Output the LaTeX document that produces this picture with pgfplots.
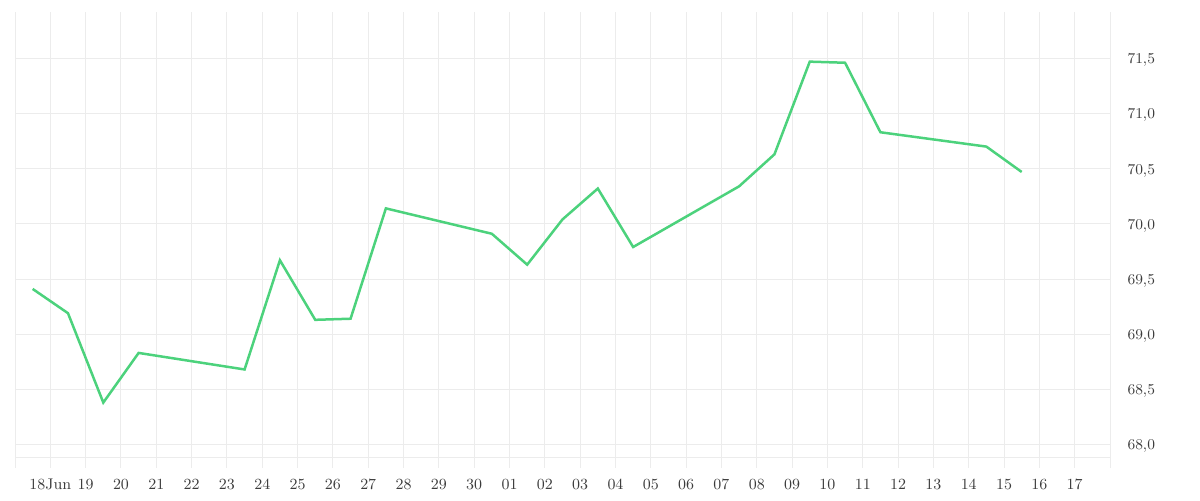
\documentclass[border=0pt]{standalone}
\usepackage{pgfplots}
\pgfplotsset{compat=1.18}
\definecolor{linegreen}{RGB}{76,210,124}
\definecolor{gridgray}{RGB}{236,236,236}
\definecolor{labelgray}{RGB}{60,60,60}
\begin{document}
\begin{tikzpicture}
\useasboundingbox (0,0) rectangle (720pt,300pt);
\begin{axis}[
  at={(9pt,19.2pt)}, anchor=south west,
  scale only axis, width=657pt, height=273.6pt,
  xmin=17, xmax=48, ymin=67.787, ymax=71.92,
  axis line style={draw=none},
  xtick={17,...,48},
  xticklabels={,18Jun,19,20,21,22,23,24,25,26,27,28,29,30,01,02,03,04,05,06,07,08,09,10,11,12,13,14,15,16,17,},
  ytick={68,68.5,...,71.5},
  extra y ticks={67.878},
  extra y tick labels={},
  extra y tick style={grid=major, major grid style={gridgray, line width=0.6pt}},
  yticklabel pos=right,
  y tick label style={/pgf/number format/fixed, /pgf/number format/fixed zerofill, /pgf/number format/precision=1, /pgf/number format/use comma, xshift=7pt, yshift=-1.2pt},
  tick style={draw=none},
  grid=major,
  major grid style={gridgray, line width=0.6pt},
  ticklabel style={font=\fontsize{9.3}{10}\selectfont, text=labelgray},
  x tick label style={yshift=-3pt},
  clip=false,
]
\addplot[linegreen, line width=1.5pt, line join=miter] coordinates {
(17.5,69.41) (18.5,69.19) (19.5,68.38) (20.5,68.83) (23.5,68.68)
(24.5,69.67) (25.5,69.13) (26.5,69.14) (27.5,70.14) (30.5,69.91)
(31.5,69.63) (32.5,70.04) (33.5,70.32) (34.5,69.79) (37.5,70.34)
(38.5,70.63) (39.5,71.47) (40.5,71.46) (41.5,70.83) (44.5,70.70)
(45.5,70.47)
};
\end{axis}
\end{tikzpicture}
\end{document}
